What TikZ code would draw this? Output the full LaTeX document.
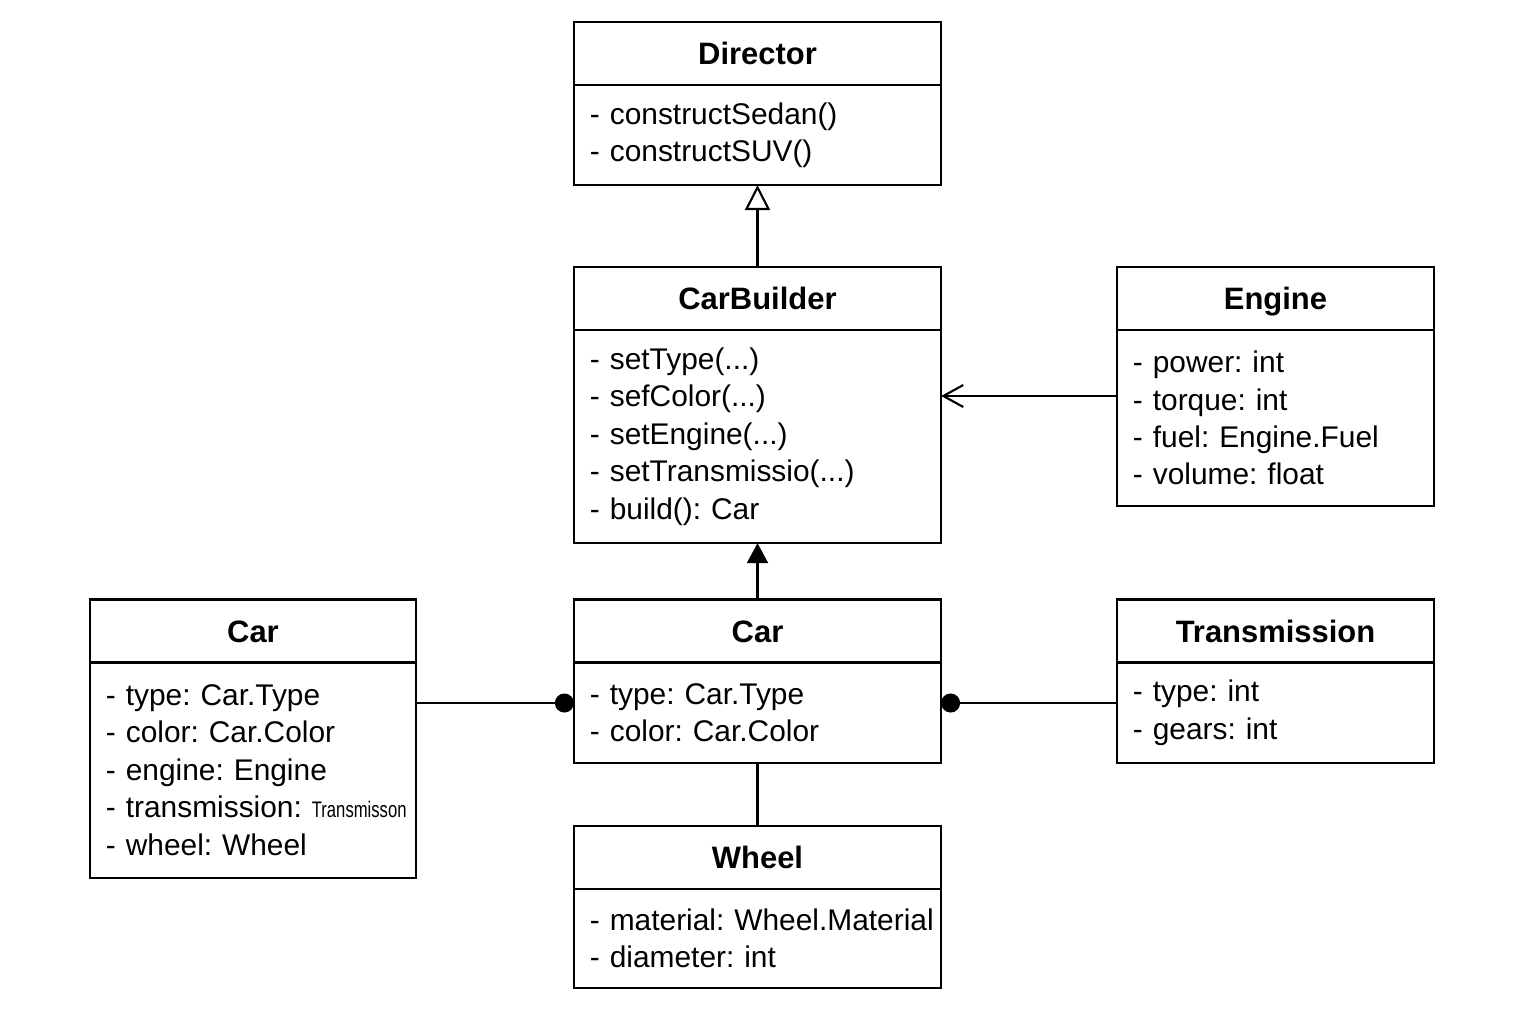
\documentclass[tikz,border=0pt]{standalone}
\usepackage{fontspec}
\setmainfont{Liberation Sans}
\usetikzlibrary{arrows.meta}
\tikzstyle{classhead}=[rectangle, draw=black, line width=0.6pt, outer sep=0pt,
                       inner sep=0pt, minimum height=0.63cm,
                       text height=7.2pt, text depth=0.8pt,
                       font=\fontsize{8.8}{11}\selectfont\bfseries]
\tikzstyle{classbody}=[rectangle, draw=black, line width=0.6pt, anchor=north,
                       outer sep=0pt, inner xsep=0.16cm, inner ysep=0pt, align=left,
                       font=\frenchspacing\fontsize{8.5}{10.65}\selectfont]

\begin{document}
\begin{tikzpicture}[x=0.01cm,y=-0.01cm,line width=0.6pt]
  \tikzstyle{inherit}=[-{Triangle[open,length=2.5mm,width=2.5mm,line width=0.6pt]}]
  \tikzstyle{realize}=[-{Triangle[length=2mm,width=2.1mm]}]
  \tikzstyle{uses}=[-{Straight Barb[length=2mm,width=2.2mm,line width=0.6pt]}]
  \tikzstyle{part}=[-{Circle[length=1.9mm]}]
  \useasboundingbox (0,0) rectangle (1536,1024);
  % Director
  \node[classhead, minimum width=3.67cm] (directortitle) at (757.5,53.5) {Director};
  \node[classbody, text width=3.35cm, minimum height=1.00cm] (directorbody) at (directortitle.south)
    {- constructSedan()\\- constructSUV()};
  % CarBuilder
  \node[classhead, minimum width=3.67cm] (buildertitle) at (757.5,298.5) {CarBuilder};
  \node[classbody, text width=3.35cm, minimum height=2.13cm] (builderbody) at (buildertitle.south)
    {- setType(...)\\- sefColor(...)\\- setEngine(...)\\- setTransmissio(...)\\- build(): Car};
  % Engine
  \node[classhead, minimum width=3.17cm] (enginetitle) at (1275.5,298.5) {Engine};
  \node[classbody, text width=2.85cm, minimum height=1.76cm] (enginebody) at (enginetitle.south)
    {- power: int\\- torque: int\\- fuel: Engine.Fuel\\- volume: float};
  % Car (full)
  \node[classhead, minimum width=3.26cm] (fullcartitle) at (253,631) {Car};
  \node[classbody, text width=2.94cm, minimum height=2.15cm] (fullcarbody) at (fullcartitle.south)
    {- type: Car.Type\\- color: Car.Color\\- engine: Engine\\
     \mbox{- transmission: \scalebox{0.74}[1]{\fontsize{6.4}{7}\selectfont Transmisson}}\\- wheel: Wheel};
  % Car
  \node[classhead, minimum width=3.67cm] (cartitle) at (757.5,631) {Car};
  \node[classbody, text width=3.35cm, minimum height=1.00cm] (carbody) at (cartitle.south)
    {- type: Car.Type\\- color: Car.Color};
  % Transmission
  \node[classhead, minimum width=3.17cm] (transtitle) at (1275.5,631) {Transmission};
  \node[classbody, text width=2.85cm, minimum height=1.00cm] (transbody) at (transtitle.south)
    {- type: int\\- gears: int};
  % Wheel
  \node[classhead, minimum width=3.67cm] (wheeltitle) at (757.5,857.5) {Wheel};
  \node[classbody, text width=3.35cm, minimum height=0.99cm] (wheelbody) at (wheeltitle.south)
    {\mbox{- material: Wheel.Material}\\- diameter: int};
  % links
  \coordinate (enginelink) at (0,396);
  \coordinate (carlink) at (0,703);
  \draw[inherit] (buildertitle.north) -- (directorbody.south);
  \draw[realize] (cartitle.north) -- (builderbody.south);
  \draw[uses] (enginebody.west |- enginelink) -- (builderbody.east |- enginelink);
  \draw[part] (fullcarbody.east |- carlink) -- (carbody.west |- carlink);
  \draw[part] (transbody.west |- carlink) -- (carbody.east |- carlink);
  \draw (carbody.south) -- (wheeltitle.north);
\end{tikzpicture}
\end{document}
